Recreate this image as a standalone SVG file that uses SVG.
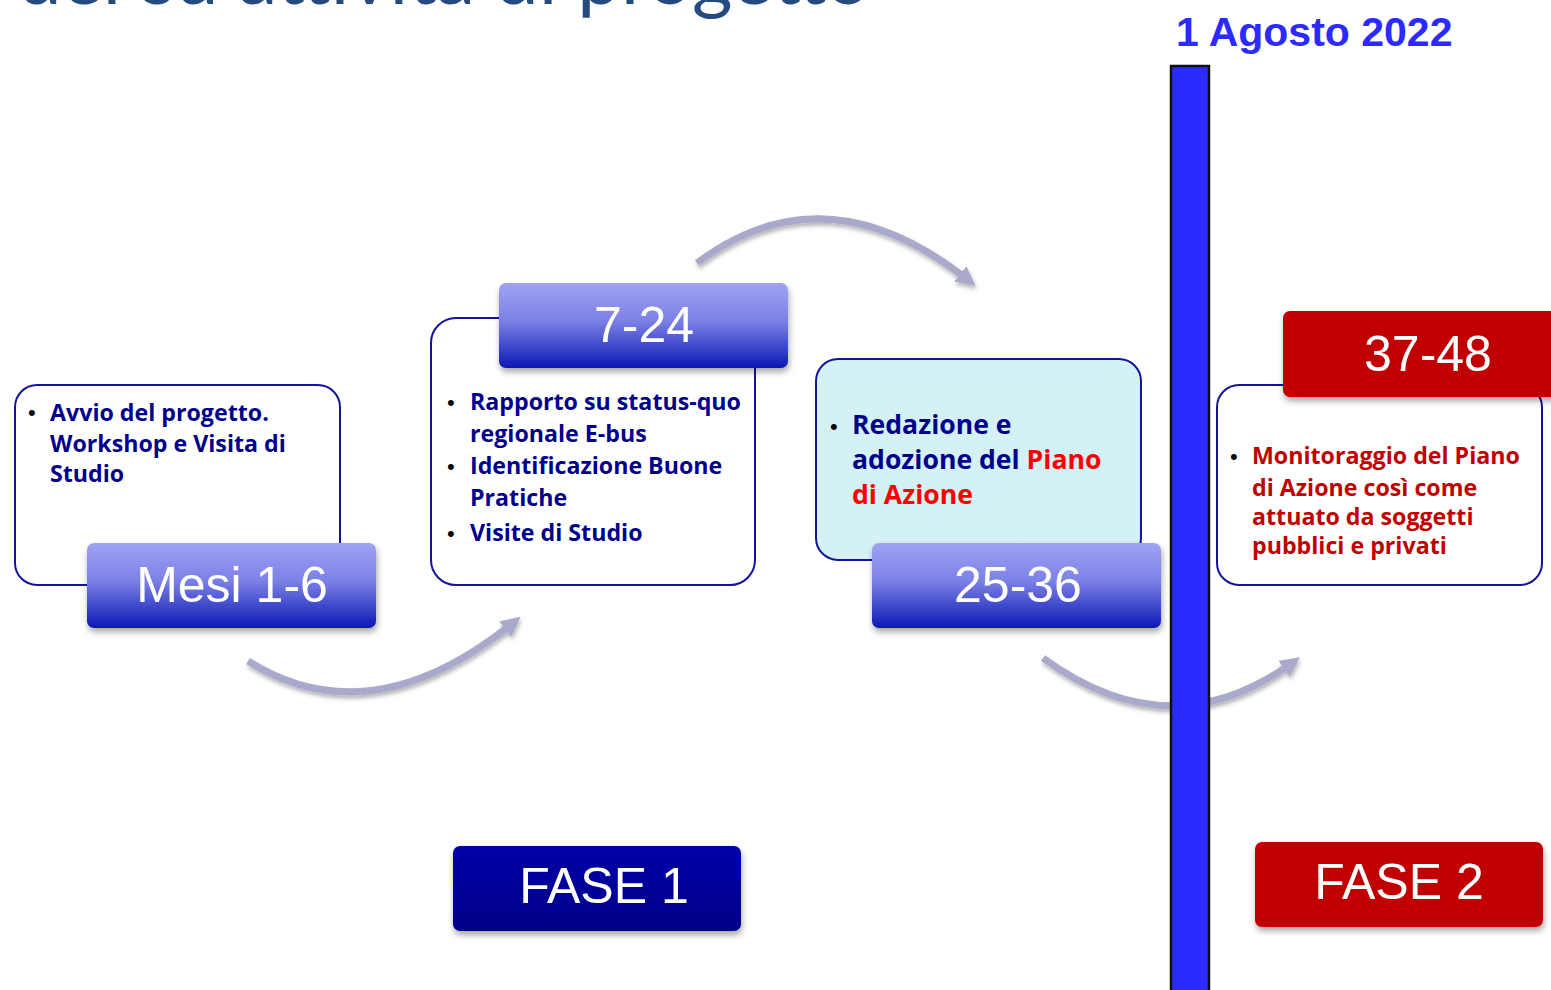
<svg xmlns="http://www.w3.org/2000/svg" width="1551" height="990" viewBox="0 0 1551 990">
<defs>
<linearGradient id="gBlue" x1="0" y1="0" x2="0" y2="1">
<stop offset="0" stop-color="#a0a3f2"/>
<stop offset="0.45" stop-color="#7b80e6"/>
<stop offset="1" stop-color="#0a18b4"/>
</linearGradient>
<linearGradient id="gFase1" x1="0" y1="0" x2="0" y2="1">
<stop offset="0" stop-color="#0000a8"/>
<stop offset="1" stop-color="#000088"/>
</linearGradient>
<filter id="sh" x="-10%" y="-10%" width="130%" height="140%">
<feDropShadow dx="1" dy="4" stdDeviation="3" flood-color="#000" flood-opacity="0.35"/>
</filter>
<filter id="ash" x="-10%" y="-20%" width="130%" height="160%">
<feDropShadow dx="1" dy="3" stdDeviation="2" flood-color="#000" flood-opacity="0.3"/>
</filter>
<marker id="ah" viewBox="0 0 10 10" refX="5" refY="5" markerWidth="2.8" markerHeight="2.8" orient="auto" markerUnits="strokeWidth">
<path d="M0,0 L10,5 L0,10 z" fill="#a9a9cc"/>
</marker>
<style>
.box{fill:#fff;stroke:#14149a;stroke-width:2}
.lbl{font-family:"Liberation Sans",Arial,sans-serif;fill:#fff;text-anchor:middle;font-size:50px}
.body{font-family:"Open Sans",Lato,sans-serif;font-weight:bold;font-size:23.2px;fill:#00008b}
.bul{font-family:"Liberation Sans",Arial,sans-serif;font-size:22px;fill:#000}
.arr{fill:none;stroke:#a9a9cc;stroke-width:7}
</style>
</defs>
<rect width="1551" height="990" fill="#fff"/>

<text x="18" y="4" font-family="Lato,'Open Sans',sans-serif" font-size="78" fill="#254a80">del su attività di progetto</text>

<g id="connectors" filter="url(#ash)">
<path class="arr" d="M248,661 Q370,738 513,623" marker-end="url(#ah)"/>
<path class="arr" d="M697,263 Q825,167 968,280" marker-end="url(#ah)"/>
<path class="arr" d="M1043,658 Q1170,751 1292,663" marker-end="url(#ah)"/>
</g>

<g id="step1">
<rect class="box" x="15" y="385" width="325" height="200" rx="22"/>
<text class="bul" x="28" y="420">•</text>
<text class="body"><tspan x="50" y="421">Avvio del progetto.</tspan><tspan x="50" y="452">Workshop e Visita di</tspan><tspan x="50" y="482">Studio</tspan></text>
<rect x="87" y="543" width="289" height="85" rx="7" fill="url(#gBlue)" filter="url(#sh)"/>
<text class="lbl" x="232" y="602">Mesi 1-6</text>
</g>

<g id="step2">
<rect class="box" x="431" y="318" width="324" height="267" rx="25"/>
<text class="bul" x="447" y="410">•</text>
<text class="bul" x="447" y="474">•</text>
<text class="bul" x="447" y="541">•</text>
<text class="body"><tspan x="470" y="410">Rapporto su status-quo</tspan><tspan x="470" y="442">regionale E-bus</tspan><tspan x="470" y="474">Identificazione Buone</tspan><tspan x="470" y="506">Pratiche</tspan><tspan x="470" y="541">Visite di Studio</tspan></text>
<rect x="499" y="283" width="289" height="85" rx="7" fill="url(#gBlue)" filter="url(#sh)"/>
<text class="lbl" x="644" y="342">7-24</text>
</g>

<g id="step3">
<rect x="816" y="359" width="325" height="201" rx="22" fill="#d4f1f5" stroke="#14149a" stroke-width="2"/>
<text class="bul" x="830" y="434" font-size="26">•</text>
<text class="body" style="font-size:26.6px"><tspan x="852" y="434">Redazione e</tspan><tspan x="852" y="469">adozione del <tspan fill="#ff0000">Piano</tspan></tspan><tspan x="852" y="504" fill="#ff0000">di Azione</tspan></text>
<rect x="872" y="543" width="289" height="85" rx="7" fill="url(#gBlue)" filter="url(#sh)"/>
<text class="lbl" x="1018" y="602">25-36</text>
</g>

<g id="divider">
<rect x="1171" y="66" width="38" height="930" fill="#2b2bff" stroke="#111" stroke-width="2.5"/>
<text x="1176" y="46" font-family="'Liberation Sans',Arial,sans-serif" font-weight="bold" font-size="41" fill="#2b2bff">1 Agosto 2022</text>
</g>

<g id="step4">
<rect class="box" x="1217" y="385" width="325" height="200" rx="22"/>
<text class="bul" x="1230" y="464">•</text>
<text class="body" style="fill:#c00000"><tspan x="1252" y="464">Monitoraggio del Piano</tspan><tspan x="1252" y="496">di Azione così come</tspan><tspan x="1252" y="525">attuato da soggetti</tspan><tspan x="1252" y="554">pubblici e privati</tspan></text>
<rect x="1283" y="311" width="290" height="86" rx="7" fill="#c00000" filter="url(#sh)"/>
<text class="lbl" x="1428" y="371">37-48</text>
</g>

<g id="fase1">
<rect x="453" y="846" width="288" height="85" rx="7" fill="url(#gFase1)" filter="url(#sh)"/>
<text class="lbl" x="604" y="903">FASE 1</text>
</g>

<g id="fase2">
<rect x="1255" y="842" width="288" height="85" rx="7" fill="#c00000" filter="url(#sh)"/>
<text class="lbl" x="1399" y="899">FASE 2</text>
</g>
</svg>
